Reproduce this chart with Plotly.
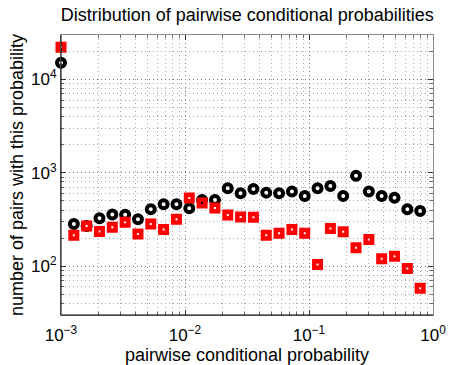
import plotly.graph_objects as go

# bin centres (pairwise conditional probability)
prob = [0.0010, 0.001269, 0.001610, 0.002043, 0.002593, 0.003290, 0.004175, 0.005298,
        0.006723, 0.008532, 0.010826, 0.013738, 0.017433, 0.022122, 0.028072, 0.035622,
        0.045204, 0.057362, 0.072790, 0.092367, 0.11721, 0.14874, 0.18874, 0.23950,
        0.30392, 0.38566, 0.48939, 0.62102, 0.78805]

# black circles
count_black = [15100, 283, 269, 326, 358, 355, 318, 407, 460, 460, 417, 513, 513, 684,
               605, 673, 614, 605, 630, 566, 684, 725, 566, 929, 630, 566, 542, 407, 390]

# red squares
count_red = [22200, 215, 269, 235, 261, 295, 221, 283, 247, 318, 538, 476, 420, 353,
             336, 334, 215, 225, 248, 225, 104, 254, 234, 158, 193, 120, 128, 94.5, 58]

x_tickvals = [1e-3, 1e-2, 1e-1, 1e0]
x_ticktext = ["10<sup>\u22123</sup>", "10<sup>\u22122</sup>", "10<sup>\u22121</sup>", "10<sup>0</sup>"]
y_tickvals = [1e2, 1e3, 1e4]
y_ticktext = ["10<sup>2</sup>", "10<sup>3</sup>", "10<sup>4</sup>"]

FONT = "Liberation Sans, Arial, Helvetica, sans-serif"

fig = go.Figure()
fig.add_trace(go.Scatter(
    x=prob, y=count_black, mode="markers", cliponaxis=False,
    marker=dict(symbol="circle-open", size=8, color="black",
                line=dict(color="black", width=4)),
    showlegend=False))
fig.add_trace(go.Scatter(
    x=prob, y=count_red, mode="markers", cliponaxis=False,
    marker=dict(symbol="square-open", size=6.5, color="#ff0000",
                line=dict(color="#ff0000", width=4.5)),
    showlegend=False))

axis_common = dict(
    type="log", showline=True, linecolor="#8a8a8a", linewidth=1, mirror="ticks",
    automargin=False,
    ticks="inside", ticklen=5, tickcolor="#333333", tickwidth=1,
    showgrid=True, gridcolor="#7a7a7a", griddash="1px,3px", gridwidth=1,
    zeroline=False,
    tickfont=dict(family=FONT, size=17, color="black"),
    minor=dict(dtick="D1", ticks="inside", ticklen=3, tickcolor="#666666",
               showgrid=True, gridcolor="#ababab", griddash="1px,3px", gridwidth=1),
)

fig.update_xaxes(range=[-3, 0], tickvals=x_tickvals, ticktext=x_ticktext,
                 ticklabelstandoff=5,
                 title=dict(text="pairwise conditional probability",
                            font=dict(family=FONT, size=18, color="black"), standoff=0),
                 **axis_common)
fig.update_yaxes(range=[1.4771, 4.4771], tickvals=y_tickvals, ticktext=y_ticktext,
                 title=dict(text="number of pairs with this probability",
                            font=dict(family=FONT, size=18, color="black"), standoff=2),
                 **axis_common)

# black left and bottom axis lines
fig.add_shape(type="line", xref="paper", yref="paper", x0=0, x1=0, y0=0, y1=1,
              line=dict(color="black", width=1))
fig.add_shape(type="line", xref="paper", yref="paper", x0=0, x1=1, y0=0, y1=0,
              line=dict(color="black", width=1))

fig.update_layout(
    width=452, height=365,
    margin=dict(l=61, r=19, t=35, b=50),
    paper_bgcolor="white", plot_bgcolor="white",
    hovermode=False,
    font=dict(family=FONT, color="black"),
    title=dict(text="Distribution of pairwise conditional probabilities",
               font=dict(family=FONT, size=18, color="black"),
               x=0.547, xanchor="center", y=0.96, yanchor="middle"),
)

fig.write_html("out.html", config={"displayModeBar": False, "staticPlot": True},
               post_script="document.body.style.margin='0px';document.body.style.overflow='hidden';")
